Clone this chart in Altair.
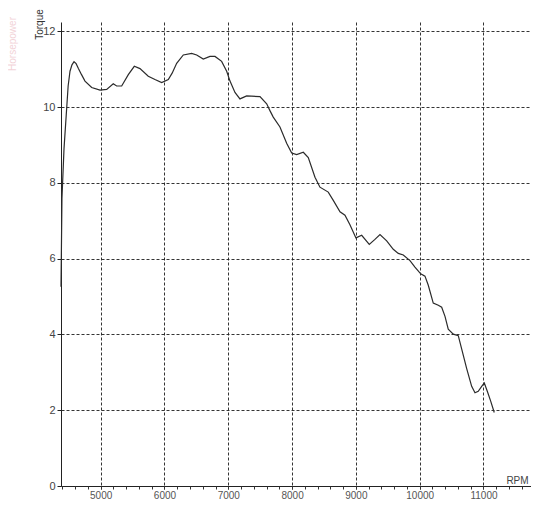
import altair as alt
import pandas as pd

rpm = [4378, 4393, 4425, 4468, 4490, 4519, 4550, 4582, 4615, 4649, 4700, 4754, 4859,
       4989, 5094, 5197, 5250, 5329, 5433, 5527, 5616, 5746, 5851, 5956, 6060, 6120,
       6191, 6295, 6426, 6505, 6608, 6713, 6792, 6896, 6975, 7027, 7105, 7183, 7288,
       7497, 7602, 7653, 7705, 7810, 7915, 7994, 8072, 8176, 8254, 8359, 8437, 8567,
       8646, 8751, 8829, 8907, 9001, 9091, 9210, 9299, 9378, 9483, 9586, 9665, 9743,
       9848, 9926, 10016, 10083, 10135, 10213, 10292, 10345, 10397, 10448, 10527,
       10605, 10658, 10737, 10815, 10867, 10918, 10972, 11013, 11060, 11113, 11169]
torque = [5.26, 7.6, 8.9, 10.0, 10.56, 10.95, 11.12, 11.2, 11.15, 11.03, 10.86, 10.69,
          10.52, 10.45, 10.47, 10.62, 10.56, 10.56, 10.86, 11.08, 11.02, 10.82, 10.73,
          10.65, 10.73, 10.9, 11.16, 11.38, 11.42, 11.38, 11.27, 11.34, 11.34, 11.21,
          10.95, 10.69, 10.39, 10.22, 10.30, 10.28, 10.09, 9.91, 9.74, 9.48, 9.05, 8.79,
          8.75, 8.81, 8.67, 8.15, 7.89, 7.76, 7.54, 7.24, 7.15, 6.90, 6.55, 6.62, 6.38,
          6.51, 6.64, 6.47, 6.25, 6.14, 6.10, 5.95, 5.78, 5.60, 5.54, 5.30, 4.83, 4.77,
          4.72, 4.48, 4.14, 4.01, 3.97, 3.62, 3.10, 2.63, 2.46, 2.50, 2.63, 2.72, 2.50,
          2.24, 1.94]

x_major = [5000, 6000, 7000, 8000, 9000, 10000, 11000]
x_minor = [4400, 4600, 4800, 5000, 5200, 5400, 5600, 5800, 6000, 6200, 6400, 6600,
           6800, 7000, 7200, 7400, 7600, 7800, 8000, 8200, 8400, 8600, 8800, 9000,
           9200, 9400, 9600, 9800, 10000, 10200, 10400, 10600, 10800, 11000, 11200,
           11400, 11600]
y_major = [0, 2, 4, 6, 8, 10, 12]

df = pd.DataFrame({"rpm": rpm, "torque": torque})

xscale = alt.Scale(domain=[4378, 11745], nice=False, zero=False)
yscale = alt.Scale(domain=[0, 12.25], nice=False, zero=True)

FONT = "Liberation Sans"

y_axis = alt.Axis(
    values=y_major, grid=True, gridDash=[3, 2], gridColor="#1e1e1e",
    gridOpacity=0.9, gridWidth=1, tickSize=4, tickColor="#222",
    domain=True, domainColor="#222", domainWidth=1,
    labelFont=FONT, labelFontSize=11, labelColor="#444", labelPadding=2,
    labelFlush=False, format="d",
    title="Torque", titleFont=FONT, titleFontSize=10, titleFontWeight="normal",
    titleColor="#333", titleAngle=270, titleX=-22, titleY=2,
    titleAlign="center", titleBaseline="middle")

line = alt.Chart(df).mark_line(color="#2b2b2b", strokeWidth=1.2).encode(
    x=alt.X("rpm:Q", scale=xscale, axis=alt.Axis(
        values=x_major, orient="bottom", grid=True, gridDash=[3, 2], gridColor="#1e1e1e",
        gridOpacity=0.9, gridWidth=1, ticks=True, tickSize=3, tickColor="#222",
        domain=True, domainColor="#222", domainWidth=1,
        labelFont=FONT, labelFontSize=10, labelColor="#555", labelPadding=1,
        labelFlush=False, labelOverlap=False, format="d",
        title="RPM", titleFont=FONT, titleFontSize=10, titleFontWeight="normal",
        titleColor="#444", titleX=456, titleY=-3, titleAlign="center",
        titleBaseline="alphabetic")),
    y=alt.Y("torque:Q", scale=yscale, axis=y_axis),
)

minor = alt.Chart(df).mark_line(opacity=0).encode(
    x=alt.X("rpm:Q", scale=xscale, axis=alt.Axis(
        values=x_minor, orient="bottom", grid=False, labels=False, tickSize=3,
        tickColor="#333", domain=False, title=None)),
    y=alt.Y("torque:Q", scale=yscale, axis=y_axis),
)

faint = alt.Chart(pd.DataFrame({"t": ["Horsepower"]})).mark_text(
    angle=270, font=FONT, fontSize=10, color="#f2d3d8", align="center",
    baseline="middle").encode(
    text="t:N", x=alt.value(-48), y=alt.value(22))

chart = alt.layer(line, minor, faint).resolve_axis(x="independent").properties(
    width=470, height=464,
    autosize=alt.AutoSizeParams(type="none"),
    padding={"left": 53, "top": 14, "right": 0, "bottom": 16},
    background="white",
).configure_view(stroke=None)

chart.save("out.html", embed_options={"renderer": "svg", "actions": False})
